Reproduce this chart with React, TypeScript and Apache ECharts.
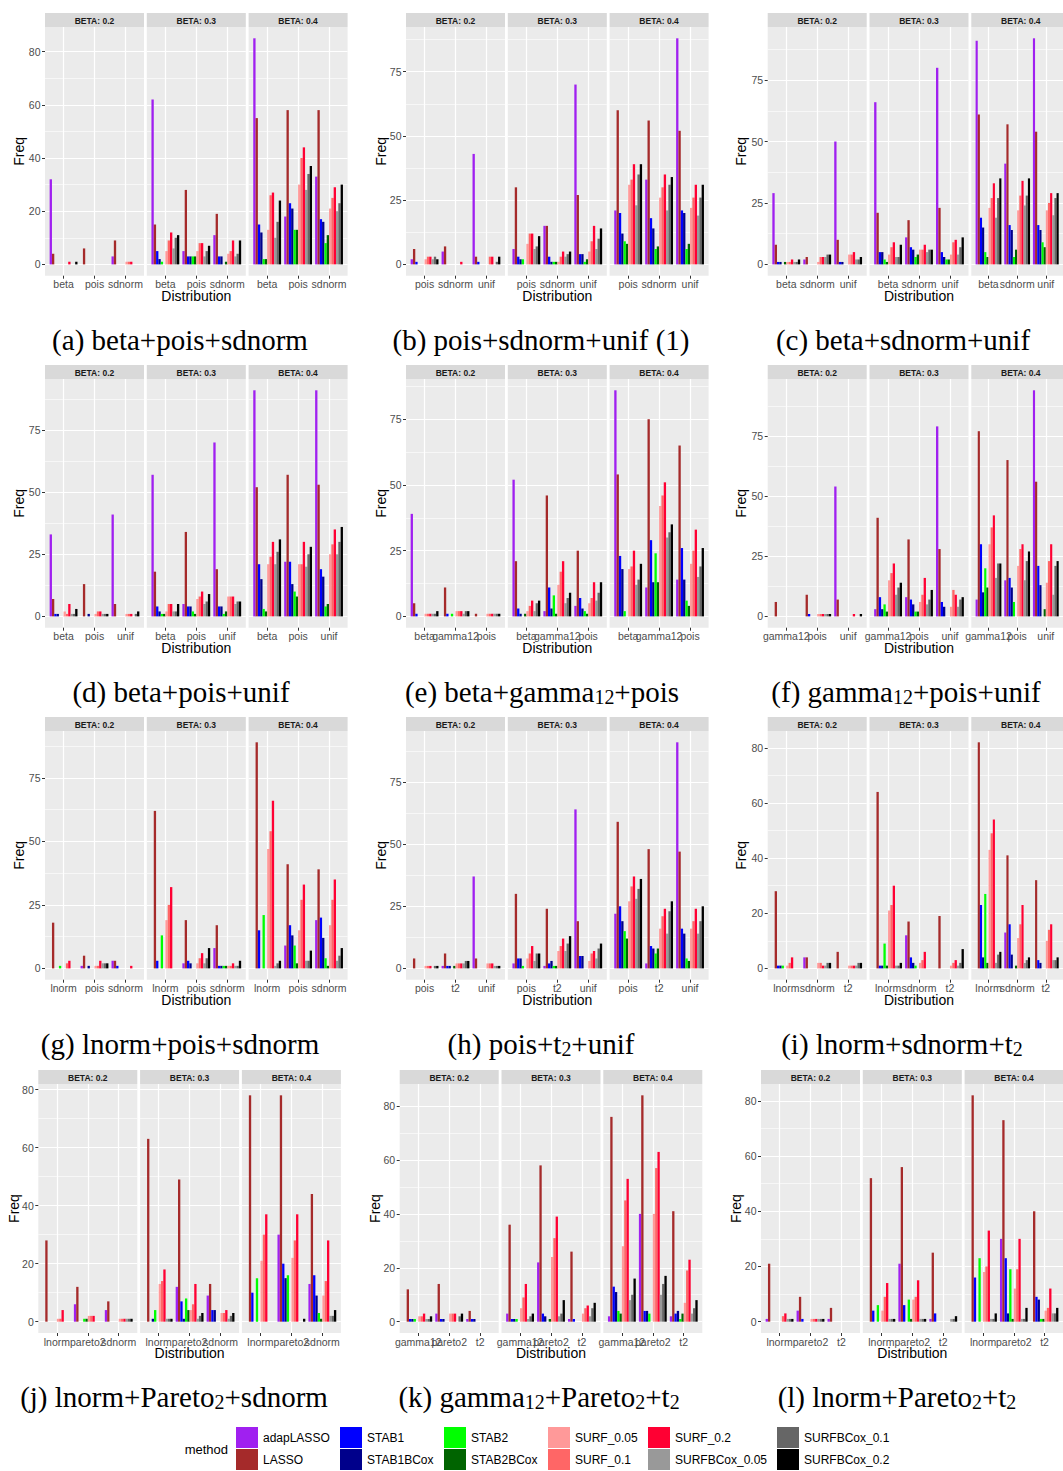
import React, { useEffect, useRef } from 'react';
import * as echarts from 'echarts';

const METHODS = ['adapLASSO', 'LASSO', 'STAB1', 'STAB1BCox', 'STAB2', 'STAB2BCox', 'SURF_0.05', 'SURF_0.1', 'SURF_0.2', 'SURFBCox_0.05', 'SURFBCox_0.1', 'SURFBCox_0.2'];
const COLORS = ['#A020F0', '#A52A2A', '#0000FF', '#00008B', '#00FF00', '#006400', '#FF9999', '#FF6666', '#FF0033', '#999999', '#666666', '#000000'];
const BETA_LABELS = ['BETA: 0.2', 'BETA: 0.3', 'BETA: 0.4'];
const TICKS_20 = [0, 20, 40, 60, 80];
const MINOR_20 = [10, 30, 50, 70, 90];
const TICKS_25 = [0, 25, 50, 75];
const MINOR_25 = [12.5, 37.5, 62.5, 87.5];
const CAT_POS = [1, 2, 3];

// categories per panel
const CATS_A = ['beta', 'pois', 'sdnorm'];
const CATS_B = ['pois', 'sdnorm', 'unif'];
const CATS_C = ['beta', 'sdnorm', 'unif'];
const CATS_D = ['beta', 'pois', 'unif'];
const CATS_E = ['beta', 'gamma12', 'pois'];
const CATS_F = ['gamma12', 'pois', 'unif'];
const CATS_G = ['lnorm', 'pois', 'sdnorm'];
const CATS_H = ['pois', 't2', 'unif'];
const CATS_I = ['lnorm', 'sdnorm', 't2'];
const CATS_J = ['lnorm', 'pareto2', 'sdnorm'];
const CATS_K = ['gamma12', 'pareto2', 't2'];
const CATS_L = ['lnorm', 'pareto2', 't2'];

// values: [category][method] for each BETA facet
const a02 = [[32, 4, 0, 0, 0, 0, 0, 0, 1, 0, 0, 1], [0, 6, 0, 0, 0, 0, 0, 0, 0, 0, 0, 0], [3, 9, 0, 0, 0, 0, 1, 1, 1, 0, 0, 0]];
const a03 = [[62, 15, 5, 2, 1, 0, 5, 9, 12, 6, 10, 11], [5, 28, 3, 3, 3, 3, 5, 8, 8, 3, 5, 7], [11, 19, 3, 3, 0, 1, 4, 5, 9, 3, 4, 9]];
const a04 = [[85, 55, 15, 12, 2, 2, 13, 26, 27, 10, 16, 24], [18, 58, 23, 21, 13, 13, 30, 40, 44, 28, 34, 37], [33, 58, 17, 16, 8, 11, 21, 25, 29, 20, 23, 30]];

const b02 = [[2, 6, 1, 0, 0, 0, 2, 3, 3, 2, 3, 2], [5, 7, 0, 0, 0, 0, 0, 0, 1, 0, 0, 0], [43, 3, 1, 0, 0, 0, 0, 3, 3, 0, 1, 3]];
const b03 = [[6, 30, 3, 2, 2, 0, 8, 12, 12, 6, 7, 11], [15, 15, 3, 1, 1, 1, 1, 3, 5, 3, 4, 5], [70, 27, 4, 4, 1, 2, 5, 9, 15, 6, 10, 14]];
const b04 = [[21, 60, 20, 12, 9, 8, 31, 33, 39, 23, 35, 39], [33, 56, 18, 14, 6, 7, 26, 30, 35, 21, 31, 34], [88, 52, 21, 20, 6, 8, 22, 26, 31, 19, 26, 31]];

const c02 = [[29, 8, 1, 1, 0, 1, 1, 1, 2, 1, 1, 2], [2, 3, 0, 0, 0, 0, 1, 3, 3, 3, 4, 4], [50, 10, 1, 1, 0, 0, 4, 4, 5, 2, 2, 3]];
const c03 = [[66, 21, 5, 5, 2, 1, 4, 7, 9, 3, 3, 8], [11, 18, 7, 6, 3, 4, 6, 6, 8, 5, 6, 6], [80, 23, 5, 3, 2, 2, 4, 9, 10, 4, 7, 11]];
const c04 = [[91, 61, 19, 15, 5, 3, 23, 27, 33, 19, 27, 35], [41, 57, 16, 14, 3, 6, 22, 28, 34, 24, 28, 35], [92, 54, 16, 14, 9, 7, 22, 25, 29, 20, 27, 29]];

const d02 = [[33, 7, 1, 1, 0, 0, 2, 1, 5, 1, 1, 3], [0, 13, 0, 1, 0, 0, 1, 2, 2, 1, 1, 1], [41, 5, 0, 0, 0, 0, 1, 1, 1, 0, 1, 2]];
const d03 = [[57, 18, 4, 2, 1, 1, 2, 5, 5, 2, 2, 5], [5, 34, 4, 4, 2, 1, 7, 8, 10, 5, 6, 9], [70, 19, 4, 4, 1, 2, 8, 8, 8, 5, 6, 6]];
const d04 = [[91, 52, 21, 15, 3, 2, 21, 24, 30, 21, 26, 31], [22, 57, 22, 13, 10, 8, 21, 21, 30, 20, 25, 28], [91, 53, 19, 16, 4, 5, 25, 29, 35, 25, 30, 36]];

const e02 = [[39, 5, 1, 0, 0, 0, 1, 1, 1, 1, 1, 2], [0, 11, 1, 0, 1, 0, 2, 2, 2, 1, 2, 2], [0, 1, 0, 0, 0, 0, 1, 1, 1, 1, 1, 1]];
const e03 = [[52, 21, 3, 1, 0, 1, 2, 4, 6, 2, 5, 6], [2, 46, 11, 3, 8, 1, 12, 17, 21, 5, 7, 9], [4, 25, 7, 3, 2, 1, 5, 7, 13, 6, 9, 13]];
const e04 = [[86, 54, 23, 18, 2, 0, 18, 19, 25, 12, 14, 20], [11, 75, 29, 13, 24, 13, 42, 46, 51, 30, 32, 35], [14, 65, 26, 14, 6, 4, 20, 25, 33, 15, 19, 26]];

const f02 = [[0, 6, 0, 0, 0, 0, 0, 0, 0, 0, 0, 0], [0, 9, 1, 0, 0, 0, 1, 1, 1, 1, 1, 1], [54, 7, 0, 0, 0, 0, 0, 0, 1, 0, 0, 1]];
const f03 = [[3, 41, 8, 3, 5, 2, 15, 18, 22, 9, 12, 14], [8, 32, 7, 5, 2, 2, 6, 9, 16, 5, 7, 11], [79, 28, 6, 4, 0, 0, 4, 11, 9, 4, 7, 8]];
const f04 = [[7, 77, 30, 10, 20, 12, 30, 37, 42, 16, 22, 22], [15, 65, 16, 12, 6, 0, 21, 28, 30, 15, 23, 27], [94, 56, 21, 13, 0, 3, 14, 23, 30, 9, 21, 23]];

const g02 = [[0, 18, 0, 0, 1, 0, 0, 2, 3, 0, 0, 0], [1, 5, 0, 1, 0, 0, 1, 1, 3, 2, 2, 2], [3, 3, 1, 0, 0, 0, 0, 0, 1, 0, 0, 0]];
const g03 = [[0, 62, 3, 0, 13, 0, 19, 25, 32, 0, 0, 0], [2, 19, 3, 2, 0, 0, 2, 4, 6, 2, 4, 8], [8, 17, 1, 1, 1, 1, 1, 1, 2, 1, 1, 3]];
const g04 = [[0, 89, 15, 0, 21, 0, 47, 54, 66, 1, 2, 3], [9, 41, 17, 13, 9, 2, 15, 27, 33, 3, 3, 7], [19, 39, 20, 12, 4, 1, 17, 27, 35, 3, 5, 8]];

const h02 = [[0, 4, 0, 0, 0, 0, 1, 1, 1, 0, 1, 1], [1, 6, 1, 1, 0, 1, 2, 2, 2, 2, 3, 3], [37, 4, 0, 0, 0, 0, 2, 2, 2, 1, 1, 1]];
const h03 = [[2, 30, 4, 4, 1, 0, 4, 6, 9, 3, 6, 6], [1, 24, 2, 3, 1, 1, 7, 9, 12, 7, 10, 13], [64, 19, 5, 5, 0, 0, 3, 6, 7, 4, 8, 10]];
const h04 = [[22, 59, 25, 19, 15, 12, 27, 33, 37, 28, 32, 36], [2, 48, 9, 8, 6, 8, 16, 21, 24, 14, 23, 27], [91, 47, 16, 14, 4, 3, 16, 19, 24, 14, 19, 25]];

const i02 = [[0, 28, 1, 1, 1, 0, 1, 2, 4, 0, 0, 0], [4, 4, 0, 0, 0, 0, 2, 2, 1, 1, 2, 2], [0, 6, 0, 0, 0, 0, 1, 1, 1, 1, 2, 2]];
const i03 = [[0, 64, 1, 1, 9, 1, 21, 23, 30, 1, 1, 2], [12, 17, 4, 2, 1, 0, 2, 3, 6, 0, 0, 0], [0, 19, 0, 0, 0, 0, 1, 2, 3, 1, 2, 7]];
const i04 = [[0, 82, 23, 4, 27, 2, 43, 49, 54, 2, 5, 6], [13, 41, 16, 5, 0, 1, 11, 16, 23, 2, 3, 4], [0, 32, 3, 2, 0, 0, 10, 14, 16, 3, 3, 4]];

const j02 = [[0, 28, 0, 0, 0, 0, 1, 1, 4, 0, 0, 0], [6, 12, 0, 0, 1, 1, 2, 2, 2, 0, 0, 0], [4, 7, 0, 0, 0, 0, 1, 1, 1, 1, 1, 1]];
const j03 = [[0, 63, 0, 1, 4, 0, 13, 14, 18, 1, 1, 1], [12, 49, 7, 1, 8, 4, 4, 6, 13, 1, 2, 3], [9, 13, 4, 4, 0, 0, 3, 3, 4, 1, 2, 3]];
const j04 = [[0, 78, 10, 0, 15, 0, 21, 30, 37, 0, 0, 0], [30, 78, 20, 15, 16, 0, 22, 28, 37, 0, 0, 1], [13, 44, 16, 9, 3, 1, 9, 14, 28, 2, 2, 4]];

const k02 = [[0, 12, 1, 1, 1, 0, 2, 2, 3, 1, 1, 2], [3, 14, 1, 1, 0, 0, 3, 3, 3, 0, 2, 3], [1, 4, 1, 1, 0, 0, 0, 0, 0, 0, 0, 0]];
const k03 = [[3, 36, 1, 1, 1, 0, 5, 9, 14, 1, 2, 3], [22, 58, 3, 2, 0, 1, 24, 31, 39, 2, 3, 8], [1, 26, 1, 0, 0, 0, 3, 5, 6, 2, 5, 7]];
const k04 = [[2, 76, 13, 11, 4, 3, 28, 45, 53, 8, 10, 16], [40, 84, 4, 4, 3, 0, 40, 57, 63, 10, 14, 17], [2, 41, 3, 4, 1, 3, 7, 19, 23, 3, 5, 8]];

const l02 = [[1, 21, 0, 0, 0, 0, 0, 2, 3, 1, 1, 1], [4, 9, 1, 0, 0, 0, 1, 1, 1, 1, 1, 1], [1, 5, 0, 0, 0, 0, 0, 0, 0, 0, 0, 0]];
const l03 = [[0, 52, 4, 0, 6, 0, 4, 9, 14, 1, 1, 1], [21, 56, 6, 0, 8, 1, 8, 9, 15, 1, 1, 1], [1, 25, 3, 0, 0, 0, 0, 0, 0, 1, 1, 2]];
const l04 = [[0, 82, 16, 0, 23, 0, 18, 20, 33, 1, 1, 3], [30, 73, 23, 3, 19, 1, 12, 19, 30, 1, 1, 5], [0, 40, 9, 8, 1, 1, 4, 5, 12, 3, 3, 5]];

// captions; _{..} marks a subscript
const CAPTIONS = [
  '(a) beta+pois+sdnorm', '(b) pois+sdnorm+unif (1)', '(c) beta+sdnorm+unif',
  '(d) beta+pois+unif', '(e) beta+gamma_{12}+pois', '(f) gamma_{12}+pois+unif',
  '(g) lnorm+pois+sdnorm', '(h) pois+t_{2}+unif', '(i) lnorm+sdnorm+t_{2}',
  '(j) lnorm+Pareto_{2}+sdnorm', '(k) gamma_{12}+Pareto_{2}+t_{2}', '(l) lnorm+Pareto_{2}+t_{2}',
];

const PANELS = [
  { cats: CATS_A, data: [a02, a03, a04], major: TICKS_20, minor: MINOR_20 },
  { cats: CATS_B, data: [b02, b03, b04], major: TICKS_25, minor: MINOR_25 },
  { cats: CATS_C, data: [c02, c03, c04], major: TICKS_25, minor: MINOR_25 },
  { cats: CATS_D, data: [d02, d03, d04], major: TICKS_25, minor: MINOR_25 },
  { cats: CATS_E, data: [e02, e03, e04], major: TICKS_25, minor: MINOR_25 },
  { cats: CATS_F, data: [f02, f03, f04], major: TICKS_25, minor: MINOR_25 },
  { cats: CATS_G, data: [g02, g03, g04], major: TICKS_25, minor: MINOR_25 },
  { cats: CATS_H, data: [h02, h03, h04], major: TICKS_25, minor: MINOR_25 },
  { cats: CATS_I, data: [i02, i03, i04], major: TICKS_20, minor: MINOR_20 },
  { cats: CATS_J, data: [j02, j03, j04], major: TICKS_20, minor: MINOR_20 },
  { cats: CATS_K, data: [k02, k03, k04], major: TICKS_20, minor: MINOR_20 },
  { cats: CATS_L, data: [l02, l03, l04], major: TICKS_20, minor: MINOR_20 },
];

// layout
const SANS = 'Liberation Sans, Arial, Helvetica, sans-serif';
const SERIF = 'Liberation Serif, Times New Roman, serif';
const COL_LEFT = [[45, 406, 767.7], [45, 406, 767.7], [45, 406, 767.7], [38.3, 399.7, 761]];
const FACET_W = 99;
const FACET_STEP = 101.8;
const STRIP_TOP = [13, 365, 717, 1070];
const STRIP_H = 14;
const PANEL_H = [248.7, 248.7, 248.7, 249];
const FREQ_X = [[19, 381, 741], [19, 381, 741], [19, 381, 741], [14, 375, 736]];
const CAP_X = [[180, 541, 903], [181, 542, 906], [180, 541, 902], [174, 539, 897]];
const CAP_Y = [340, 692, 1044, 1397];
const LEGEND_GROUPS = [[0, 1], [2, 3], [4, 5], [6, 7], [8, 9], [10, 11]];
const LEGEND_X = [236, 340, 444, 548, 648, 777];
const LEGEND_TOP = 1427;

function captionRich(s: string) {
  const parts: string[] = [];
  const re = /_\{([^}]*)\}/g;
  let last = 0;
  let m: RegExpExecArray | null;
  while ((m = re.exec(s)) !== null) {
    if (m.index > last) parts.push('{n|' + s.slice(last, m.index) + '}');
    parts.push('{s|' + m[1] + '}');
    last = m.index + m[0].length;
  }
  if (last < s.length) parts.push('{n|' + s.slice(last) + '}');
  return parts.join('');
}

function buildOption() {
  const grids: any[] = [];
  const xAxes: any[] = [];
  const yAxes: any[] = [];
  const series: any[] = [];
  const graphics: any[] = [];

  PANELS.forEach((p, pi) => {
    const row = Math.floor(pi / 3);
    const col = pi % 3;
    const left0 = COL_LEFT[row][col];
    const stripTop = STRIP_TOP[row];
    const top = stripTop + STRIP_H;
    const h = PANEL_H[row];
    const M = Math.max(...p.data.flat(2));
    const ymin = -0.05 * M;
    const ymax = 1.05 * M;

    p.data.forEach((facet, fi) => {
      const gi = grids.length;
      const left = left0 + fi * FACET_STEP;
      grids.push({ left, top, width: FACET_W, height: h, show: true, backgroundColor: '#EBEBEB', borderWidth: 0 });
      // main x axis: ticks + vertical grid lines
      const mainX = xAxes.length;
      xAxes.push({
        gridIndex: gi, type: 'value', min: 0.4, max: 3.6, position: 'bottom',
        axisLine: { show: false, onZero: false },
        axisTick: { show: true, customValues: CAT_POS, length: 3, lineStyle: { color: '#333333', width: 1 } },
        axisLabel: { show: false, customValues: CAT_POS },
        splitLine: { show: true, lineStyle: { color: '#FFFFFF', width: 1.2 } },
      });
      // one label-only axis per category so overlapping labels are all kept
      CAT_POS.forEach((c) => {
        xAxes.push({
          gridIndex: gi, type: 'value', min: 0.4, max: 3.6, position: 'bottom',
          axisLine: { show: false, onZero: false },
          axisTick: { show: false, customValues: [c] },
          axisLabel: {
            show: true, customValues: [c], formatter: () => p.cats[c - 1],
            showMinLabel: true, showMaxLabel: true, hideOverlap: false,
            color: '#4D4D4D', fontSize: 10.5, margin: 3, fontFamily: SANS,
          },
          splitLine: { show: false },
        });
      });
      yAxes.push({
        gridIndex: gi, type: 'value', min: ymin, max: ymax,
        axisLine: { show: false },
        axisTick: { show: fi === 0, customValues: p.major, length: 3, lineStyle: { color: '#333333', width: 1 } },
        axisLabel: {
          show: fi === 0, customValues: p.major, showMinLabel: true, showMaxLabel: true,
          color: '#4D4D4D', fontSize: 10.5, margin: 4.5, fontFamily: SANS,
        },
        splitLine: { show: true, lineStyle: { color: '#FFFFFF', width: 1.2 } },
      });
      yAxes.push({
        gridIndex: gi, type: 'value', min: ymin, max: ymax,
        axisLine: { show: false },
        axisTick: { show: false, customValues: p.minor },
        axisLabel: { show: false, customValues: p.minor },
        splitLine: { show: true, lineStyle: { color: '#FFFFFF', width: 0.6 } },
      });
      METHODS.forEach((m, mi) => {
        series.push({
          type: 'bar', name: m, xAxisIndex: mainX, yAxisIndex: 2 * gi,
          data: facet.map((vals, ci) => [CAT_POS[ci], vals[mi]]),
          itemStyle: { color: COLORS[mi] },
          barGap: '0%', barCategoryGap: '10%', silent: true,
        });
      });

      // strip
      graphics.push({ type: 'rect', shape: { x: left, y: stripTop, width: FACET_W, height: STRIP_H }, style: { fill: '#D9D9D9' }, silent: true });
      graphics.push({
        type: 'text', x: left + FACET_W / 2, y: stripTop + STRIP_H / 2 + 0.5,
        style: { text: BETA_LABELS[fi], fill: '#1A1A1A', font: 'bold 8.5px ' + SANS, textAlign: 'center', textVerticalAlign: 'middle' }, silent: true,
      });
    });

    // axis titles
    graphics.push({
      type: 'text', x: FREQ_X[row][col], y: top + h / 2, rotation: Math.PI / 2,
      style: { text: 'Freq', fill: '#000000', font: '14px ' + SANS, textAlign: 'center', textVerticalAlign: 'middle' }, silent: true,
    });
    graphics.push({
      type: 'text', x: left0 + FACET_STEP + FACET_W / 2, y: top + h + 20,
      style: { text: 'Distribution', fill: '#000000', font: '14px ' + SANS, textAlign: 'center', textVerticalAlign: 'middle' }, silent: true,
    });
    // caption
    graphics.push({
      type: 'text', x: CAP_X[row][col], y: CAP_Y[row],
      style: {
        text: captionRich(CAPTIONS[pi]), textAlign: 'center', textVerticalAlign: 'middle',
        rich: {
          n: { fontFamily: SERIF, fontSize: 29, lineHeight: 30, color: '#000000', verticalAlign: 'middle' },
          s: { fontFamily: SERIF, fontSize: 20, lineHeight: 13, color: '#000000', verticalAlign: 'bottom' },
        },
      }, silent: true,
    });
  });

  graphics.push({
    type: 'text', x: 228, y: 1449,
    style: { text: 'method', fill: '#000000', font: '13px ' + SANS, textAlign: 'right', textVerticalAlign: 'middle' }, silent: true,
  });

  const legends = LEGEND_GROUPS.map((idx, k) => ({
    left: LEGEND_X[k], top: LEGEND_TOP, orient: 'vertical', itemWidth: 22, itemHeight: 21, itemGap: 1,
    icon: 'rect', padding: 0, selectedMode: false,
    data: idx.map((i) => METHODS[i]),
    textStyle: { fontSize: 12, color: '#000000', fontFamily: SANS },
  }));

  return {
    animation: false,
    backgroundColor: '#FFFFFF',
    grid: grids,
    xAxis: xAxes,
    yAxis: yAxes,
    series,
    legend: legends,
    graphic: graphics,
  };
}

export default function App() {
  const ref = useRef<HTMLDivElement>(null);
  useEffect(() => {
    document.body.style.margin = '0';
    document.body.style.overflow = 'hidden';
    if (!ref.current) return;
    const chart = echarts.init(ref.current, undefined, { renderer: 'svg' });
    chart.setOption(buildOption() as any);
    return () => chart.dispose();
  }, []);
  return <div ref={ref} style={{ position: 'absolute', left: 0, top: 0, width: 1063, height: 1471 }} />;
}
